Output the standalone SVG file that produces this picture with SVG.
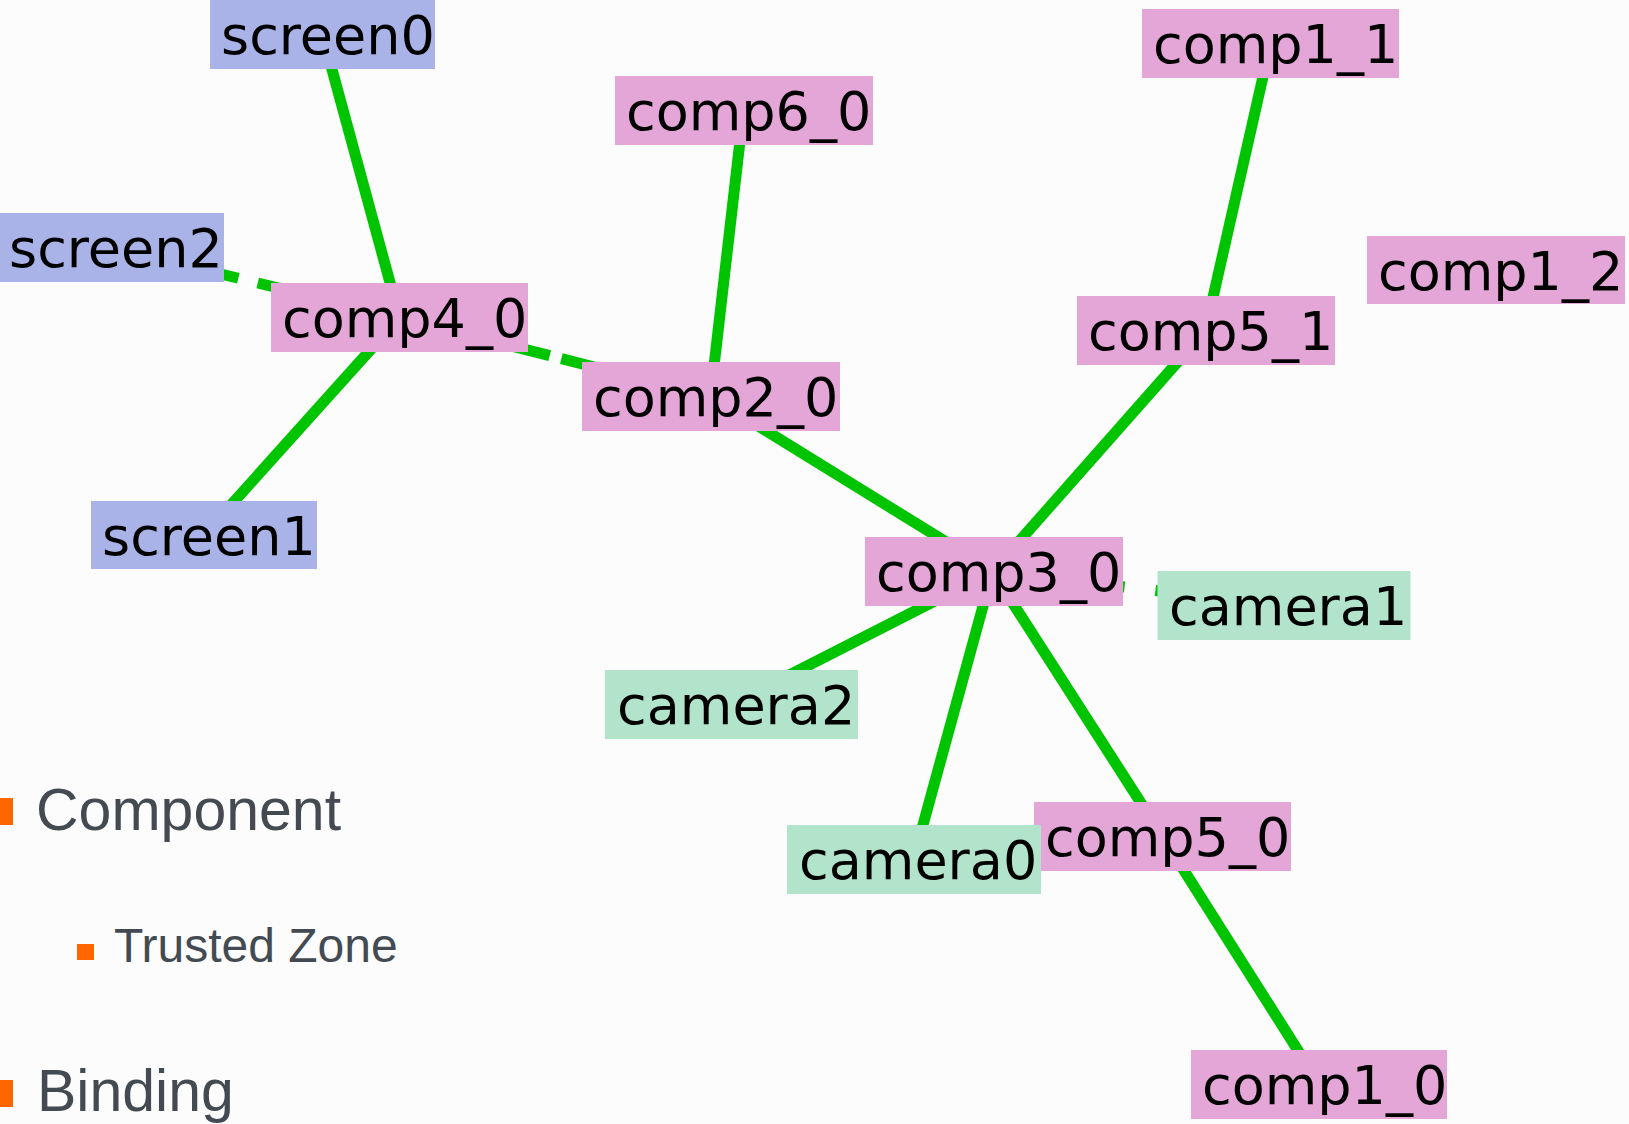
<svg xmlns="http://www.w3.org/2000/svg" width="1629" height="1124" viewBox="0 0 1629 1124">
  <style>
    .bg { fill: #fcfcfc; }
    .edge { stroke: #00c400; stroke-width: 11; fill: none; stroke-linecap: butt; }
    .comp { fill: #e4a6d6; }
    .screen { fill: #a9b3e8; }
    .camera { fill: #b2e4cc; }
    .label { font-family: "DejaVu Sans", "Liberation Sans", sans-serif; font-size: 54px; fill: #000000; }
    .legend { font-family: "Liberation Sans", Arial, sans-serif; fill: #434a52; }
    .bullet { fill: #ff6600; }
  </style>
  <rect class="bg" x="0" y="0" width="1629" height="1124"/>

  <!-- bindings, drawn centre to centre beneath the nodes -->
  <g id="connectors">
    <line class="edge" x1="322.5" y1="34.5" x2="399.5" y2="317.5"/>
    <line class="edge" x1="112" y1="247.5" x2="399.5" y2="317.5" stroke-dasharray="40 20" stroke-dashoffset="30"/>
    <line class="edge" x1="399.5" y1="317.5" x2="710.5" y2="396.5" stroke-dasharray="40 12" stroke-dashoffset="41"/>
    <line class="edge" x1="399.5" y1="317.5" x2="203.5" y2="535.5"/>
    <line class="edge" x1="743.5" y1="110.5" x2="710.5" y2="396.5"/>
    <line class="edge" x1="710.5" y1="396.5" x2="994" y2="571.5"/>
    <line class="edge" x1="992.5" y1="571.5" x2="1205.5" y2="330.5"/>
    <line class="edge" x1="1205.5" y1="330.5" x2="1270.5" y2="43.5"/>
    <line class="edge" x1="992.5" y1="571.5" x2="1283.5" y2="605.5" stroke-dasharray="60 31" stroke-dashoffset="18"/>
    <line class="edge" x1="992.5" y1="571.5" x2="731.5" y2="704.5"/>
    <line class="edge" x1="992.5" y1="571.5" x2="913.5" y2="859.5"/>
    <line class="edge" x1="992.5" y1="571.5" x2="1162.5" y2="836.5"/>
    <line class="edge" x1="1162.5" y1="836.5" x2="1319.5" y2="1084.5"/>
  </g>

  <g id="screen0"><rect class="screen" x="210" y="0" width="225" height="69"/><text class="label" x="221" y="54">screen0</text></g>
  <g id="screen2"><rect class="screen" x="0" y="213" width="224" height="69"/><text class="label" x="9" y="267">screen2</text></g>
  <g id="comp4_0"><rect class="comp" x="271" y="283" width="257" height="69"/><text class="label" x="282" y="337">comp4_0</text></g>
  <g id="comp6_0"><rect class="comp" x="615" y="76" width="258" height="69"/><text class="label" x="626" y="130">comp6_0</text></g>
  <g id="comp2_0"><rect class="comp" x="582" y="362" width="258" height="69"/><text class="label" x="593" y="416">comp2_0</text></g>
  <g id="screen1"><rect class="screen" x="91" y="501" width="226" height="68"/><text class="label" x="102" y="555">screen1</text></g>
  <g id="comp1_1"><rect class="comp" x="1142" y="9" width="257" height="69"/><text class="label" x="1153" y="63">comp1_1</text></g>
  <g id="comp1_2"><rect class="comp" x="1367" y="236" width="258" height="68"/><text class="label" x="1378" y="290">comp1_2</text></g>
  <g id="comp5_1"><rect class="comp" x="1077" y="296" width="258" height="69"/><text class="label" x="1088" y="350">comp5_1</text></g>
  <g id="comp3_0"><rect class="comp" x="865" y="537" width="258" height="69"/><text class="label" x="876" y="591">comp3_0</text></g>
  <g id="camera1"><rect class="camera" x="1157.5" y="571" width="253" height="69"/><text class="label" x="1169" y="625">camera1</text></g>
  <g id="camera2"><rect class="camera" x="605" y="670" width="253" height="69"/><text class="label" x="617" y="724">camera2</text></g>
  <g id="comp5_0"><rect class="comp" x="1034" y="802" width="257" height="69"/><text class="label" x="1045" y="856">comp5_0</text></g>
  <g id="camera0"><rect class="camera" x="787" y="825" width="254" height="69"/><text class="label" x="799" y="879">camera0</text></g>
  <g id="comp1_0"><rect class="comp" x="1191" y="1050" width="256" height="69"/><text class="label" x="1202" y="1104">comp1_0</text></g>

  <!-- legend -->
  <g id="legend">
    <rect class="bullet" x="-14" y="798" width="27" height="27"/>
    <text class="legend" x="36" y="830" font-size="59">Component</text>
    <rect class="bullet" x="77" y="944" width="17" height="16"/>
    <text class="legend" x="114" y="962" font-size="48">Trusted Zone</text>
    <rect class="bullet" x="-14" y="1080" width="27" height="27"/>
    <text class="legend" x="37" y="1111" font-size="59">Binding</text>
  </g>
</svg>
